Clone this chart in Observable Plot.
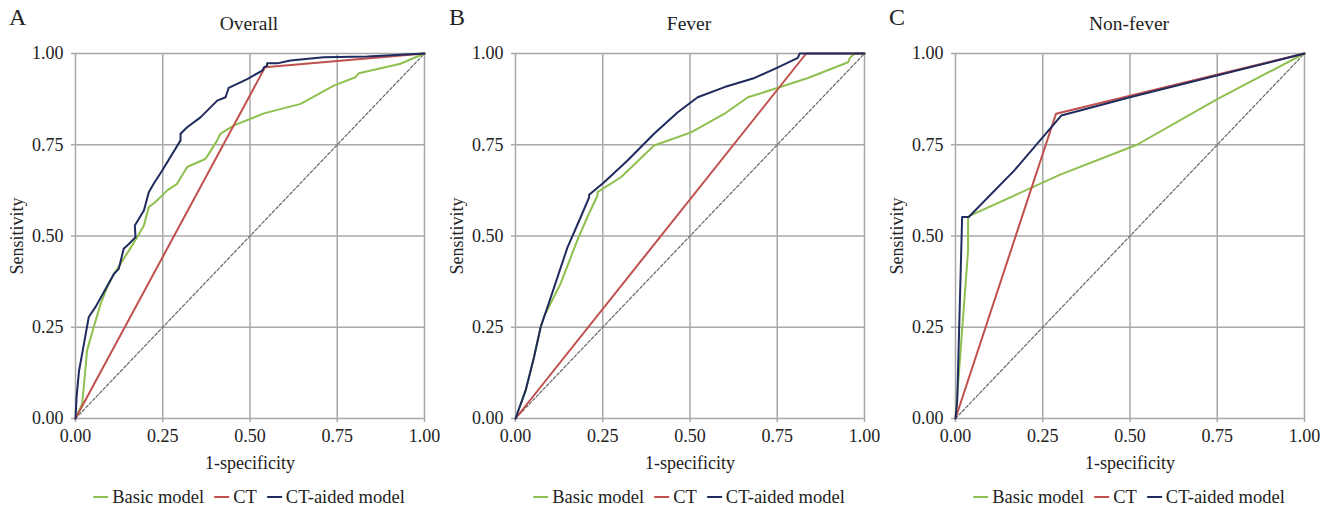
<!DOCTYPE html>
<html><head><meta charset="utf-8">
<script src="https://cdn.jsdelivr.net/npm/d3@7"></script>
<script src="https://cdn.jsdelivr.net/npm/@observablehq/plot@0.6"></script>
<style>
body{margin:0;background:#fff;font-family:"Liberation Serif","Times New Roman",Times,"DejaVu Serif",serif;color:#222;}
#root{position:relative;width:1333px;height:508px;overflow:hidden;}
.panel{position:absolute;top:0;width:440px;height:508px;}
.letter{position:absolute;left:9px;top:5px;font-size:24px;line-height:1;}
.title{position:absolute;top:14px;left:249px;font-size:19.5px;line-height:1;transform:translateX(-50%);white-space:nowrap;}
.plot{position:absolute;top:40px;left:0;}
.legend{position:absolute;top:488px;left:249px;transform:translateX(-50%);white-space:nowrap;font-size:18.5px;line-height:1;display:flex;align-items:center;}
.item{display:flex;align-items:center;margin-right:10px;}
.item:last-child{margin-right:0;}
.sw{display:inline-block;width:15px;height:2px;margin-right:4px;}
</style>
</head><body>
<div id="root"></div>
<script>
// ---- data ----
const seriesNames = ["Basic model", "CT", "CT-aided model"];
const seriesColors = ["#8fbf4f", "#c0504d", "#1f2b5e"];
const tickValues = [0, 0.25, 0.5, 0.75, 1];
const panelLetters = ["A", "B", "C"];
const panelTitles = ["Overall", "Fever", "Non-fever"];
const reference = [[0, 0], [1, 1]];

// Panel A: Overall
const overallBasic = [[0,0],[0.019,0.040],[0.029,0.141],[0.033,0.186],[0.052,0.250],[0.072,0.314],[0.091,0.360],[0.110,0.396],[0.129,0.424],[0.153,0.460],[0.177,0.497],[0.196,0.529],[0.210,0.579],[0.229,0.593],[0.263,0.625],[0.291,0.643],[0.320,0.689],[0.372,0.711],[0.382,0.725],[0.406,0.762],[0.415,0.780],[0.454,0.803],[0.540,0.836],[0.645,0.862],[0.740,0.912],[0.802,0.935],[0.812,0.946],[0.931,0.972],[1,1]];
const overallCT = [[0,0],[0.543,0.962],[1,1]];
const overallAided = [[0,0],[0.003,0.058],[0.010,0.130],[0.019,0.177],[0.038,0.278],[0.057,0.305],[0.081,0.346],[0.110,0.396],[0.124,0.410],[0.138,0.465],[0.153,0.478],[0.172,0.497],[0.170,0.529],[0.196,0.570],[0.210,0.620],[0.224,0.643],[0.248,0.679],[0.301,0.762],[0.301,0.780],[0.320,0.798],[0.358,0.825],[0.406,0.871],[0.430,0.880],[0.439,0.906],[0.492,0.930],[0.535,0.953],[0.540,0.962],[0.549,0.967],[0.549,0.973],[0.578,0.973],[0.616,0.981],[0.711,0.990],[0.836,0.992],[1,1]];

// Panel B: Fever
const feverBasic = [[0,0],[0.029,0.077],[0.053,0.168],[0.072,0.250],[0.081,0.278],[0.129,0.369],[0.177,0.488],[0.206,0.552],[0.235,0.611],[0.235,0.620],[0.302,0.661],[0.397,0.748],[0.503,0.784],[0.599,0.835],[0.666,0.880],[0.752,0.906],[0.838,0.933],[0.953,0.976],[0.958,0.988],[0.972,1],[1,1]];
const feverCT = [[0,0],[0.833,1],[1,1]];
const feverAided = [[0,0],[0.029,0.077],[0.053,0.168],[0.072,0.250],[0.101,0.332],[0.149,0.469],[0.187,0.552],[0.211,0.606],[0.211,0.613],[0.254,0.647],[0.321,0.707],[0.397,0.780],[0.465,0.839],[0.522,0.880],[0.599,0.908],[0.685,0.933],[0.752,0.962],[0.809,0.988],[0.814,1],[1,1]];

// Panel C: Non-fever
const nonFeverBasic = [[0,0],[0.036,0.460],[0.036,0.552],[0.040,0.555],[0.300,0.668],[0.520,0.750],[0.750,0.875],[1,1]];
const nonFeverCT = [[0,0],[0.288,0.835],[1,1]];
const nonFeverAided = [[0,0],[0.005,0.050],[0.019,0.552],[0.038,0.552],[0.168,0.679],[0.303,0.830],[0.500,0.880],[1,1]];

const panels = [
  [overallBasic, overallCT, overallAided],
  [feverBasic, feverCT, feverAided],
  [nonFeverBasic, nonFeverCT, nonFeverAided]
];

// ---- drawing ----
const font = '"Liberation Serif","Times New Roman",Times,"DejaVu Serif",serif';
const gridColor = "#a8a8a8";
const root = document.getElementById("root");

panels.forEach((series, i) => {
  const rows = [];
  series.forEach((pts, s) => pts.forEach(([x, y]) => rows.push({series: seriesNames[s], x, y})));

  const panel = document.createElement("div");
  panel.className = "panel";
  panel.style.left = (i * 440) + "px";

  const letter = document.createElement("div");
  letter.className = "letter";
  letter.textContent = panelLetters[i];
  panel.appendChild(letter);

  const title = document.createElement("div");
  title.className = "title";
  title.textContent = panelTitles[i];
  panel.appendChild(title);

  const chart = Plot.plot({
    width: 440,
    height: 435,
    marginLeft: 75,
    marginRight: 16,
    marginTop: 13,
    marginBottom: 57,
    style: {fontFamily: font, fontSize: "18px", color: "#222", background: "transparent", overflow: "visible"},
    x: {domain: [0, 1]},
    y: {domain: [0, 1]},
    color: {domain: seriesNames, range: seriesColors},
    marks: [
      Plot.gridX(tickValues, {stroke: gridColor, strokeOpacity: 1, strokeWidth: 1.5}),
      Plot.gridY(tickValues, {stroke: gridColor, strokeOpacity: 1, strokeWidth: 1.5}),
      Plot.axisX(tickValues, {tickFormat: d3.format(".2f"), tickSize: 4, stroke: gridColor, strokeWidth: 1.5, tickPadding: 7, fontSize: 18, fontFamily: font, label: "1-specificity", labelAnchor: "center", labelOffset: 50, labelArrow: "none"}),
      Plot.axisY(tickValues, {tickFormat: d3.format(".2f"), tickSize: 4, stroke: gridColor, strokeWidth: 1.5, tickPadding: 8, fontSize: 18, fontFamily: font, label: "Sensitivity", labelAnchor: "center", labelOffset: 65, labelArrow: "none"}),
      Plot.line(reference, {x: d => d[0], y: d => d[1], stroke: "#666", strokeWidth: 1.2, strokeDasharray: "3,2"}),
      Plot.line(rows, {x: "x", y: "y", z: "series", stroke: "series", strokeWidth: 2, strokeLinejoin: "round"})
    ]
  });
  chart.classList.add("plot");
  panel.appendChild(chart);

  const legend = document.createElement("div");
  legend.className = "legend";
  seriesNames.forEach((name, s) => {
    const item = document.createElement("span");
    item.className = "item";
    const sw = document.createElement("span");
    sw.className = "sw";
    sw.style.background = seriesColors[s];
    item.appendChild(sw);
    item.appendChild(document.createTextNode(name));
    legend.appendChild(item);
  });
  panel.appendChild(legend);

  root.appendChild(panel);
});
</script>
</body></html>
